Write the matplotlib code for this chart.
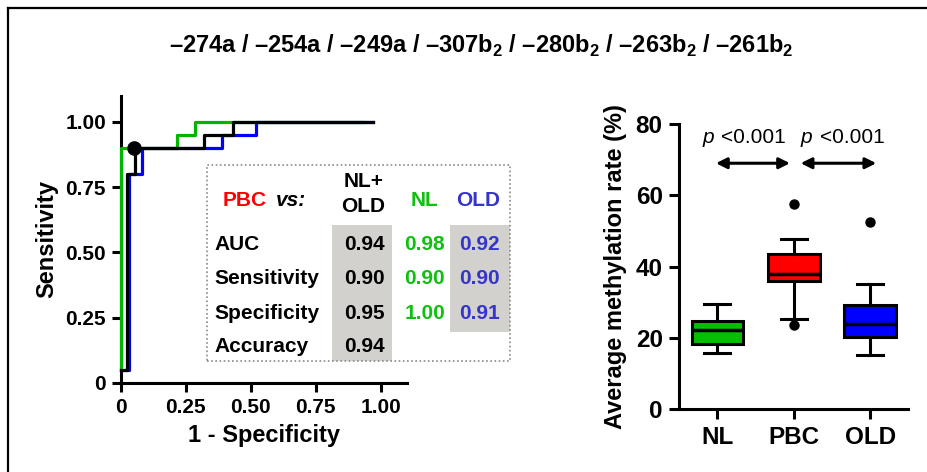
import matplotlib
matplotlib.use("Agg")
import matplotlib.pyplot as plt
from matplotlib.patches import Rectangle

plt.rcParams['font.family'] = ['Liberation Sans', 'DejaVu Sans']
plt.rcParams['font.weight'] = 'bold'
plt.rcParams['axes.labelweight'] = 'bold'
plt.rcParams['mathtext.fontset'] = 'custom'
plt.rcParams['mathtext.rm'] = 'Liberation Sans:bold'
plt.rcParams['mathtext.bf'] = 'Liberation Sans:bold'

# ROC curves (1 - specificity, sensitivity)
fpr_nl = [0, 0, 0.215, 0.215, 0.286, 0.286, 0.93]
tpr_nl = [0.05, 0.90, 0.90, 0.95, 0.95, 1.00, 1.00]
fpr_old = [0, 0.033, 0.033, 0.08, 0.08, 0.39, 0.39, 0.52, 0.52, 0.97]
tpr_old = [0.05, 0.05, 0.80, 0.80, 0.90, 0.90, 0.95, 0.95, 1.00, 1.00]
fpr_all = [0, 0.026, 0.026, 0.055, 0.055, 0.32, 0.32, 0.43, 0.43, 0.97]
tpr_all = [0.05, 0.05, 0.80, 0.80, 0.90, 0.90, 0.95, 0.95, 1.00, 1.00]
cut_point = (0.052, 0.90)

roc_ticks = [0, 0.25, 0.5, 0.75, 1.0]
roc_ticklabels = ["0", "0.25", "0.50", "0.75", "1.00"]

# table
row_names = ["AUC", "Sensitivity", "Specificity", "Accuracy"]
col_all = ["0.94", "0.90", "0.95", "0.94"]
col_nl = ["0.98", "0.90", "1.00"]
col_old = ["0.92", "0.90", "0.91"]

# box plot
groups = ["NL", "PBC", "OLD"]
whislo = [15.7, 25.2, 15.1]
q1 = [18.2, 36.0, 20.4]
med = [22.2, 37.9, 23.8]
q3 = [24.8, 43.5, 29.2]
whishi = [29.5, 47.7, 35.1]
fliers = [[], [57.5, 23.6], [52.4]]
box_colors = ["#00c000", "#ff0000", "#0000ff"]

sites = ["274a", "254a", "249a", "307b", "280b", "263b", "261b"]
title = " / ".join("\u2013" + s + (r"$_\mathbf{2}$" if s.endswith("b") else "") for s in sites)

W, H = 928, 472
fig = plt.figure(figsize=(W / 100, H / 100), dpi=100)

def fx(px):
    return px / W

def fy(py):
    return 1 - py / H

# frame around figure (cropped on right and bottom)
fig.add_artist(plt.Line2D([fx(8), 1.0], [fy(8), fy(8)], color="black", lw=1.6))
fig.add_artist(plt.Line2D([fx(8), fx(8)], [fy(8), 0.0], color="black", lw=1.6))

fig.text(fx(481), fy(46), title, ha="center", va="center", fontsize=17)

# ---- ROC panel
ax = fig.add_axes([fx(120.7), fy(383), fx(286), 287.4 / H])
lw = 2.3
ax.plot(fpr_old, tpr_old, color="#0000ff", lw=lw, zorder=3, clip_on=False)
ax.plot(fpr_nl, tpr_nl, color="#00b400", lw=lw, zorder=4, clip_on=False)
ax.plot(fpr_all, tpr_all, color="black", lw=lw, zorder=5, clip_on=False)
ax.plot(*cut_point, "o", color="black", ms=9.5, zorder=6, clip_on=False)
ax.set_xlim(0, 1.1)
ax.set_ylim(0, 1.1)
ax.set_xticks(roc_ticks)
ax.set_xticklabels(roc_ticklabels)
ax.set_yticks(roc_ticks)
ax.set_yticklabels(roc_ticklabels)
for s in ["top", "right"]:
    ax.spines[s].set_visible(False)
for s in ["left", "bottom"]:
    ax.spines[s].set_linewidth(2.2)
ax.tick_params(width=2.2, length=6.5, labelsize=15, pad=4)
ax.set_xlabel("1 - Specificity", fontsize=17, labelpad=5)
ax.set_ylabel("Sensitivity", fontsize=17, labelpad=5)

# ---- table box
gray = "#d3d1cd"
fig.add_artist(Rectangle((fx(331.7), fy(360.7)), fx(392.3 - 331.7), (360.7 - 225) / H,
                         transform=fig.transFigure, facecolor=gray, edgecolor="none", zorder=1))
fig.add_artist(Rectangle((fx(450), fy(331.7)), fx(510 - 450), (331.7 - 225) / H,
                         transform=fig.transFigure, facecolor=gray, edgecolor="none", zorder=1))
fig.add_artist(Rectangle((fx(206.7), fy(360.7)), fx(510 - 206.7), (360.7 - 165) / H,
                         transform=fig.transFigure, facecolor="none", edgecolor="#8a8a8a",
                         lw=1.2, ls=(0, (1, 1.5)), zorder=2))

ts = 15
green_txt = "#10c010"
blue_txt = "#3535cc"
fig.text(fx(223), fy(200), "PBC", color="#ff0000", fontsize=ts, va="center", ha="left")
fig.text(fx(276), fy(200), "vs:", color="black", fontsize=ts, va="center", ha="left", style="italic")
fig.text(fx(363.3), fy(181.7), "NL+", fontsize=ts, va="center", ha="center")
fig.text(fx(363.3), fy(206.7), "OLD", fontsize=ts, va="center", ha="center")
fig.text(fx(424.3), fy(200), "NL", color=green_txt, fontsize=ts, va="center", ha="center")
fig.text(fx(478.3), fy(200), "OLD", color=blue_txt, fontsize=ts, va="center", ha="center")
row_y = [245, 278.3, 313.3, 346.7]
for i, name in enumerate(row_names):
    fig.text(fx(214), fy(row_y[i]), name, fontsize=ts, va="center", ha="left")
    fig.text(fx(385), fy(row_y[i]), col_all[i], fontsize=ts, va="center", ha="right")
for i in range(len(col_nl)):
    fig.text(fx(445), fy(row_y[i]), col_nl[i], color=green_txt, fontsize=ts, va="center", ha="right")
    fig.text(fx(500), fy(row_y[i]), col_old[i], color=blue_txt, fontsize=ts, va="center", ha="right")

# ---- box plot panel
bx = fig.add_axes([fx(679.3), fy(409.3), fx(908.3 - 679.3), 285.3 / H])
stats = []
for i, g in enumerate(groups):
    stats.append(dict(label=g, whislo=whislo[i], q1=q1[i], med=med[i], q3=q3[i],
                      whishi=whishi[i], fliers=fliers[i]))
pos = [1, 2, 3]
b = bx.bxp(stats, positions=pos, widths=0.68, patch_artist=True, showcaps=True,
           boxprops=dict(linewidth=2.2, edgecolor="black"),
           medianprops=dict(color="black", linewidth=2.5),
           whiskerprops=dict(color="black", linewidth=2.2),
           capprops=dict(color="black", linewidth=2.2),
           capwidths=0.34,
           flierprops=dict(marker="o", markerfacecolor="black", markeredgecolor="black", markersize=6.5))
for patch, c in zip(b["boxes"], box_colors):
    patch.set_facecolor(c)
bx.set_xlim(0.5, 3.5)
bx.set_ylim(0, 80)
bx.set_yticks([0, 20, 40, 60, 80])
bx.set_xticks(pos)
bx.set_xticklabels(groups)
for s in ["top", "right"]:
    bx.spines[s].set_visible(False)
for s in ["left", "bottom"]:
    bx.spines[s].set_linewidth(2.2)
bx.tick_params(width=2.2, length=7, labelsize=17.5, pad=5)
bx.set_ylabel("Average methylation rate (%)", fontsize=17, labelpad=6)

# significance arrows
arrow = dict(arrowstyle="<|-|>", lw=2.2, color="black", mutation_scale=16, shrinkA=0, shrinkB=0)
bx.annotate("", xy=(1.95, 69), xytext=(0.98, 69), arrowprops=arrow, annotation_clip=False)
bx.annotate("", xy=(3.08, 69), xytext=(2.09, 69), arrowprops=arrow, annotation_clip=False)
for xp, xl in [(0.80, 1.04), (2.09, 2.34)]:
    bx.text(xp, 76.3, "p", style="italic", fontweight="normal", fontsize=15, va="center", ha="left")
    bx.text(xl, 76.3, "<0.001", fontweight="normal", fontsize=15, va="center", ha="left")

fig.savefig("out.png", dpi=100)
